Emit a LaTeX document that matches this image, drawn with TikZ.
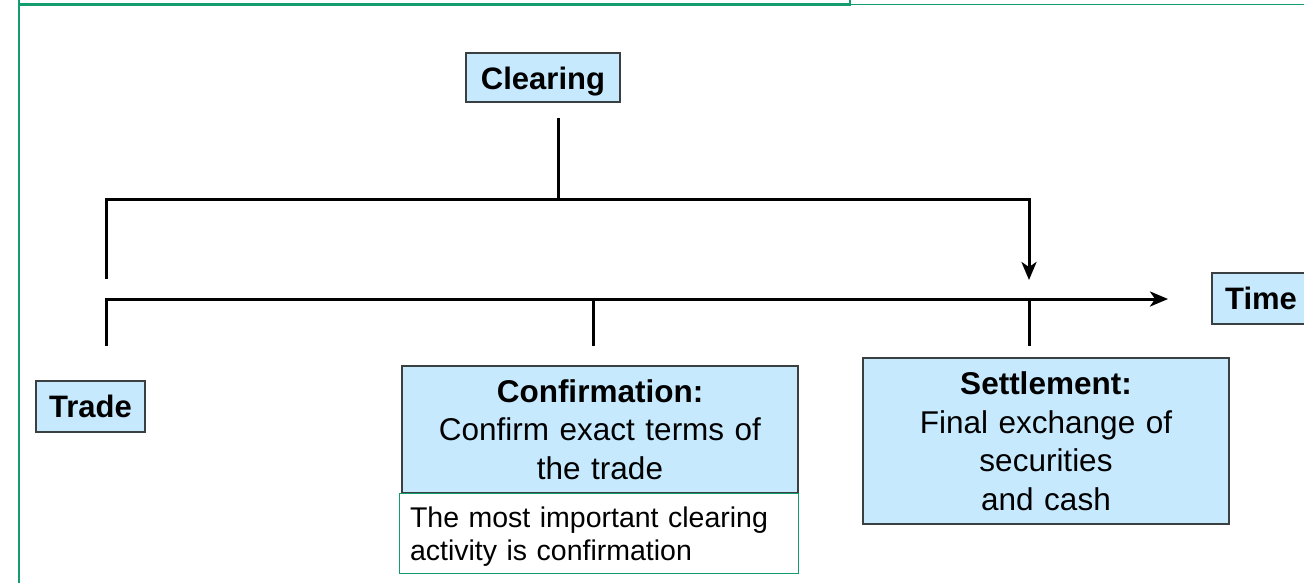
\documentclass[tikz,border=0pt]{standalone}
\usepackage{fontspec}
\setmainfont{Liberation Sans}
\usetikzlibrary{arrows.meta}
\definecolor{boxblue}{HTML}{C6E9FE}
\definecolor{boxedge}{HTML}{3A3F42}
\definecolor{framegreen}{HTML}{139C6E}
\begin{document}
\begin{tikzpicture}[x=1pt,y=-1pt,
  wire/.style={line width=3pt, line join=miter, line cap=butt},
  tip/.style={-{Stealth[length=18pt,width=15pt,inset=5pt]}},
  tagbox/.style={draw=boxedge, line width=1.2pt, fill=boxblue, inner sep=0pt,
    font=\fontsize{31}{37}\selectfont\bfseries},
  stagebox/.style={draw=boxedge, line width=1.2pt, fill=boxblue, inner sep=0pt,
    align=center, font=\fontsize{31.5}{38.5}\selectfont},
  notebox/.style={draw=framegreen, line width=1pt, fill=white, inner sep=0pt,
    align=left, font=\fontsize{28.5}{33}\selectfont}
]
\useasboundingbox (0,0) rectangle (1304,582);

% page frame
\draw[framegreen, line width=1.6pt] (19,590) -- (19,4.3) -- (1310,4.3);
\draw[framegreen, line width=2.5pt] (19,-10) rectangle (850,4.5);

% labels and stage boxes
\node[tagbox, minimum width=154pt, minimum height=49pt, text height=23pt, text depth=0pt] (clearing) at (543,77.5) {Clearing};
\node[tagbox, minimum width=109pt, minimum height=51pt] (trade) at (90.5,406.5) {Trade};
\node[tagbox, minimum width=98pt, minimum height=51pt] (time) at (1261,298.5) {Time};
\node[stagebox, minimum width=396pt, minimum height=127pt, text width=390pt] (confirm) at (600,429.5)
  {\textbf{Confirmation:}\\Confirm exact terms of\\the trade};
\node[stagebox, minimum width=366pt, minimum height=166pt, text width=360pt] (settle) at (1046,441)
  {\textbf{Settlement:}\\Final exchange of\\securities\\and cash};
\node[notebox, minimum width=399pt, minimum height=80pt, text width=377pt, text height=27pt] (note) at (598.5,533)
  {The most important clearing\\activity is confirmation};

% anchor points of the connectors
\coordinate (clearTap) at (558,118);
\coordinate (clearJoin) at (558,199);
\coordinate (bracketStart) at (106,279);
\coordinate (bracketLeft) at (106,199);
\coordinate (bracketRight) at (1029,199);
\coordinate (settleMark) at (1029,280);
\coordinate (tradeTick) at (106,346);
\coordinate (lineStart) at (106,299);
\coordinate (lineEnd) at (1168,299);
\coordinate (confTop) at (593,299);
\coordinate (confTick) at (593,346);
\coordinate (settleTop) at (1029,299);
\coordinate (settleTick) at (1029,346);

% clearing bracket
\draw[wire] (clearTap) -- (clearJoin);
\draw[wire, tip] (bracketStart) -- (bracketLeft) -- (bracketRight) -- (settleMark);

% time line with ticks
\draw[wire, tip] (tradeTick) -- (lineStart) -- (lineEnd);
\draw[wire] (confTop) -- (confTick);
\draw[wire] (settleTop) -- (settleTick);
\end{tikzpicture}
\end{document}
